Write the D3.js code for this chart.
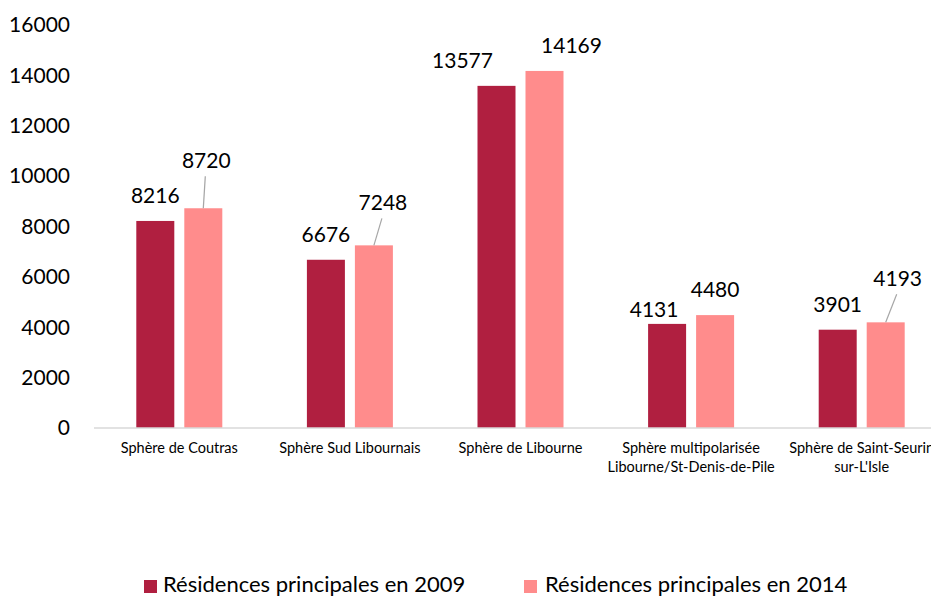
<!DOCTYPE html>
<html>
<head>
<meta charset="utf-8">
<script src="https://cdn.jsdelivr.net/npm/d3@7"></script>
<style>
  body { margin: 0; background: #fff; }
  svg { font-family: Lato, "Open Sans", sans-serif; }
</style>
</head>
<body>
<div><svg width="931" height="596"></svg></div>
<script>
// data
let categories = [
    ["Sphère de Coutras"],
    ["Sphère Sud Libournais"],
    ["Sphère de Libourne"],
    ["Sphère multipolarisée", "Libourne/St-Denis-de-Pile"],
    ["Sphère de Saint-Seurin", "sur-L'Isle"]
];
let series = ["Résidences principales en 2009", "Résidences principales en 2014"];
let values2009 = [8216, 6676, 13577, 4131, 3901];
let values2014 = [8720, 7248, 14169, 4480, 4193];
let yTicks = [0, 2000, 4000, 6000, 8000, 10000, 12000, 14000, 16000];

let colors = ["#B01F40", "#FF8C8C"];

// label nudges (px) relative to the bar top centre, [dx, dy]; leader = draw a line
let labelNudge = [
    [[0, -18], [3, -40, true]],
    [[0, -18], [9, -35, true]],
    [[-34, -18], [27, -18]],
    [[-13, -7], [0, -18]],
    [[0, -18], [12, -36, true]]
];

let svg = d3.select("svg");
let x = d3.scaleBand().domain(d3.range(categories.length)).range([94, 947]);
let y = d3.scaleLinear().domain([0, 16000]).range([428, 24.8]);
let barW = 38, gap = 10;

// y tick labels
svg.append("g").selectAll("text").data(yTicks).enter().append("text")
    .attr("x", 70)
    .attr("y", function(d) { return y(d); })
    .attr("dy", "0.35em")
    .attr("text-anchor", "end")
    .style("font-size", "21px")
    .style("fill", "#000")
    .text(function(d) { return d; });

// bars
let groups = svg.append("g").selectAll("g").data(categories).enter().append("g");

[values2009, values2014].forEach(function(vals, s) {
    svg.append("g").selectAll("rect").data(vals).enter().append("rect")
        .attr("x", function(d, i) {
            let c = x(i) + x.bandwidth() / 2;
            return s == 0 ? c - gap / 2 - barW : c + gap / 2;
        })
        .attr("y", function(d) { return y(d); })
        .attr("width", barW)
        .attr("height", function(d) { return y(0) - y(d); })
        .style("fill", colors[s]);
});

// axis line
svg.append("line")
    .attr("x1", 94).attr("x2", 931)
    .attr("y1", y(0)).attr("y2", y(0))
    .style("stroke", "#D9D9D9")
    .style("stroke-width", 1.5);

// data labels
[values2009, values2014].forEach(function(vals, s) {
    vals.forEach(function(d, i) {
        let c = x(i) + x.bandwidth() / 2;
        let bx = s == 0 ? c - gap / 2 - barW / 2 : c + gap / 2 + barW / 2;
        let n = labelNudge[i][s];
        let lx = bx + n[0], ly = y(d) + n[1];
        svg.append("text")
            .attr("x", lx).attr("y", ly)
            .attr("text-anchor", "middle")
            .style("font-size", "21px")
            .style("fill", "#000")
            .text(d);
        if (n[2]) {
            svg.append("line")
                .attr("x1", lx - 1).attr("y1", ly + 8)
                .attr("x2", bx).attr("y2", y(d))
                .style("stroke", "#A6A6A6")
                .style("stroke-width", 1.2);
        }
    });
});

// category labels
groups.each(function(lines, i) {
    let t = d3.select(this).append("text")
        .attr("x", x(i) + x.bandwidth() / 2)
        .attr("y", 453)
        .attr("text-anchor", "middle")
        .style("font-size", "14.5px")
        .style("fill", "#000");
    lines.forEach(function(l, k) {
        t.append("tspan")
            .attr("x", x(i) + x.bandwidth() / 2)
            .attr("dy", k == 0 ? 0 : 19)
            .text(l);
    });
});

// legend
let legendX = [144, 524];
series.forEach(function(name, s) {
    svg.append("rect")
        .attr("x", legendX[s]).attr("y", 580)
        .attr("width", 13).attr("height", 13)
        .style("fill", colors[s]);
    svg.append("text")
        .attr("x", legendX[s] + 19 + s * 2).attr("y", 592)
        .style("font-size", "22px")
        .style("fill", "#000")
        .text(name);
});
</script>
</body>
</html>
